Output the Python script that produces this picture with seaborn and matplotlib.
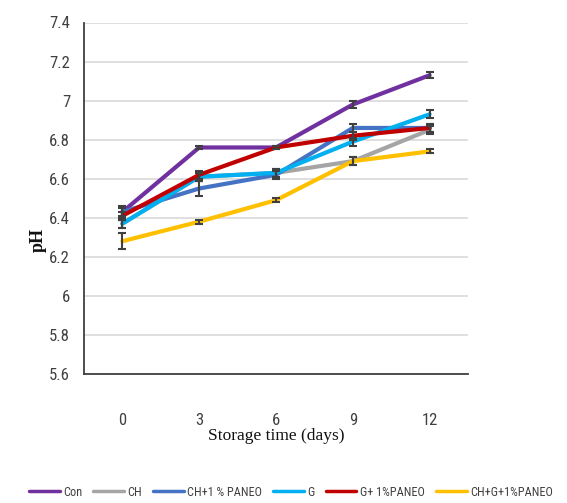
import matplotlib
matplotlib.use("Agg")
import matplotlib.pyplot as plt
from matplotlib import font_manager
import seaborn as sns
import pandas as pd

days = [0, 3, 6, 9, 12]
treatments = ["Con", "CH", "CH+1 % PANEO", "G", "G+ 1%PANEO", "CH+G+1%PANEO"]
ph_con = [6.43, 6.76, 6.76, 6.98, 7.13]
ph_ch = [6.37, 6.61, 6.63, 6.69, 6.85]
ph_ch_paneo = [6.43, 6.55, 6.62, 6.86, 6.86]
ph_g = [6.37, 6.61, 6.63, 6.79, 6.93]
ph_g_paneo = [6.41, 6.62, 6.76, 6.82, 6.86]
ph_chg_paneo = [6.28, 6.38, 6.49, 6.69, 6.74]
err_con = [0.02, 0.01, 0.01, 0.02, 0.015]
err_ch = [0.02, 0.02, 0.02, 0.02, 0.02]
err_ch_paneo = [0.03, 0.04, 0.02, 0.02, 0.02]
err_g = [0.02, 0.02, 0.02, 0.02, 0.02]
err_g_paneo = [0.02, 0.02, 0.01, 0.02, 0.02]
err_chg_paneo = [0.04, 0.01, 0.01, 0.02, 0.01]
yticks = [5.6, 5.8, 6.0, 6.2, 6.4, 6.6, 6.8, 7.0, 7.2, 7.4]
ytick_labels = ["5.6", "5.8", "6", "6.2", "6.4", "6.6", "6.8", "7", "7.2", "7.4"]

colors = ["#7030A0", "#A5A5A5", "#4472C4", "#00B0F0", "#C00000", "#FFC000"]

values = [ph_con, ph_ch, ph_ch_paneo, ph_g, ph_g_paneo, ph_chg_paneo]
errors = [err_con, err_ch, err_ch_paneo, err_g, err_g_paneo, err_chg_paneo]

rows = []
for t, v, e in zip(treatments, values, errors):
    for d, p, s in zip(days, v, e):
        rows.append({"day": d, "pH": p, "err": s, "treatment": t})
df = pd.DataFrame(rows)


def pick(names):
    for n in names:
        try:
            font_manager.findfont(n, fallback_to_default=False)
            return n
        except Exception:
            pass
    return "DejaVu Sans"


narrow = pick(["Liberation Sans Narrow", "Roboto Condensed", "Open Sans Condensed", "Liberation Sans"])
serif = pick(["Liberation Serif", "DejaVu Serif"])

sns.set_theme(style="white")
plt.rcParams["font.family"] = [narrow, "DejaVu Sans"]

fig = plt.figure(figsize=(5.67, 5.03), dpi=100)
ax = fig.add_axes([84 / 567, 1 - 374 / 503, (468 - 84) / 567, (374 - 22.5) / 503])

ax.yaxis.grid(True, color="#D9D9D9", linewidth=1.2)
ax.set_axisbelow(True)

for t, c in zip(treatments, colors):
    sub = df[df["treatment"] == t]
    sns.lineplot(data=sub, x="day", y="pH", color=c, linewidth=3, ax=ax,
                 errorbar=None, legend=False, label=t, zorder=3)
    ax.errorbar(sub["day"], sub["pH"], yerr=sub["err"], fmt="none",
                ecolor="#404040", elinewidth=1.5, capsize=3, capthick=1.5, zorder=4)

ax.set_xlim(-1.5, 13.5)
ax.set_ylim(5.6, 7.4)
ax.set_xticks(days)
ax.set_xticklabels([str(d) for d in days])
ax.set_yticks(yticks)
ax.set_yticklabels(ytick_labels)
ax.tick_params(axis="x", length=0, pad=28, labelsize=12, labelcolor="#404040")
ax.tick_params(axis="y", length=0, pad=10, labelsize=12, labelcolor="#404040")
ax.set_xlabel("")
ax.set_ylabel("")
for s in ["top", "right"]:
    ax.spines[s].set_visible(False)
for s in ["left", "bottom"]:
    ax.spines[s].set_color("#404040")
    ax.spines[s].set_linewidth(1.3)

fig.text(276 / 567, 1 - 436 / 503, "Storage time (days)", family=serif,
         fontsize=12.5, ha="center", va="center", color="#111111")
fig.text(38 / 567, 1 - 240 / 503, "pH", family=serif, fontweight="bold",
         fontsize=13, rotation=90, ha="center", va="center", color="#111111")

handles = [plt.Line2D([0], [0], color=c, linewidth=2.5) for c in colors]
fig.legend(handles, treatments, loc="center", bbox_to_anchor=(291 / 567, 1 - 492 / 503),
           ncol=6, frameon=False, fontsize=8.8, handlelength=2.5, handletextpad=0.3,
           columnspacing=0.9, labelcolor="#404040")

fig.savefig("out.png", dpi=100)
